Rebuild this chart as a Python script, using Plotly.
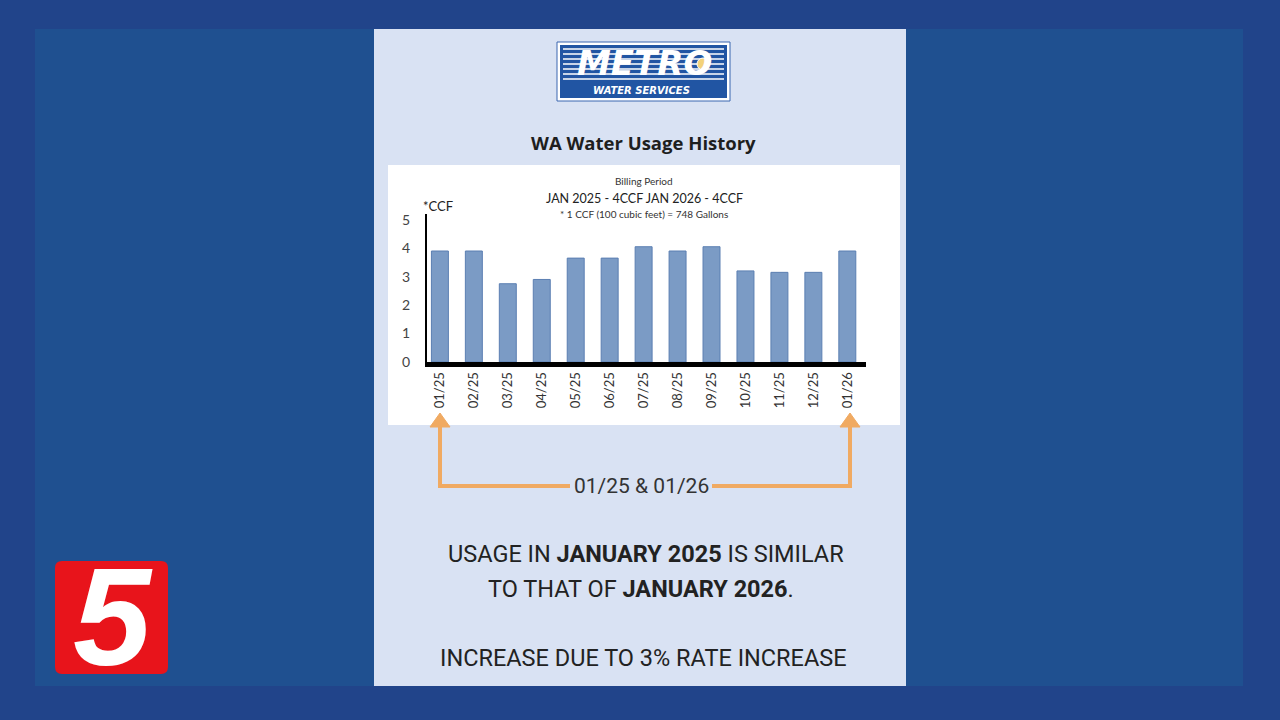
import plotly.graph_objects as go

# ---------------- data ----------------
months = ["01/25", "02/25", "03/25", "04/25", "05/25", "06/25", "07/25",
          "08/25", "09/25", "10/25", "11/25", "12/25", "01/26"]
usage_ccf = [3.9, 3.9, 2.75, 2.9, 3.65, 3.65, 4.05, 3.9, 4.05, 3.2, 3.15, 3.15, 3.9]
y_ticks = [0, 1, 2, 3, 4, 5]

W, H = 1280, 720


def px(x):
    return x / W


def py(y):
    return 1 - y / H


fig = go.Figure()

fig.add_trace(go.Bar(
    x=months, y=usage_ccf, width=0.5,
    marker=dict(color="#7b9bc5", line=dict(color="#5b7fb2", width=1)),
    hoverinfo="x+y",
))

shapes = []


def rect(x0, y0, x1, y1, fill, line_color=None, lw=0, layer="below"):
    shapes.append(dict(type="rect", xref="paper", yref="paper",
                       x0=px(x0), x1=px(x1), y0=py(y1), y1=py(y0),
                       fillcolor=fill, line=dict(color=line_color or fill, width=lw),
                       layer=layer))


def rounded(x0, y0, x1, y1, r, fill):
    p = (f"M {px(x0 + r)},{py(y0)} L {px(x1 - r)},{py(y0)} "
         f"Q {px(x1)},{py(y0)} {px(x1)},{py(y0 + r)} L {px(x1)},{py(y1 - r)} "
         f"Q {px(x1)},{py(y1)} {px(x1 - r)},{py(y1)} L {px(x0 + r)},{py(y1)} "
         f"Q {px(x0)},{py(y1)} {px(x0)},{py(y1 - r)} L {px(x0)},{py(y0 + r)} "
         f"Q {px(x0)},{py(y0)} {px(x0 + r)},{py(y0)} Z")
    shapes.append(dict(type="path", xref="paper", yref="paper", path=p,
                       fillcolor=fill, line=dict(color=fill, width=0)))


# backgrounds
rect(0, 0, 1280, 720, "#21448a")
rect(35, 29, 1243, 686, "#1f5090")
rect(374, 29, 906, 686, "#d9e2f3")
rect(388, 165, 900, 425, "#ffffff")

# logo box
rect(557, 42, 730, 101, "#ffffff", "#3a67b0", 1)
rect(560, 45, 727, 98, "#2155a3")
for yy in [49, 54, 59, 64, 69, 74, 79]:
    shapes.append(dict(type="line", xref="paper", yref="paper",
                       x0=px(563), x1=px(724), y0=py(yy), y1=py(yy),
                       line=dict(color="#ffffff", width=1.6)))

# arrows
orange = "#f0aa62"
shapes.append(dict(type="path", xref="paper", yref="paper",
                   path=f"M {px(440)},{py(424)} L {px(440)},{py(486)} L {px(570)},{py(486)}",
                   line=dict(color=orange, width=4)))
shapes.append(dict(type="path", xref="paper", yref="paper",
                   path=f"M {px(712)},{py(486)} L {px(850)},{py(486)} L {px(850)},{py(424)}",
                   line=dict(color=orange, width=4)))
for cx in [440, 850]:
    shapes.append(dict(type="path", xref="paper", yref="paper",
                       path=f"M {px(cx)},{py(413)} L {px(cx-10)},{py(427)} L {px(cx+10)},{py(427)} Z",
                       fillcolor=orange, line=dict(color=orange, width=1)))

# channel 5 logo
rounded(55, 561, 168, 674, 7, "#e8141b")

annotations = []


def text(x, y, s, size, color="#222", family="Lato", bold=False, italic=False, xanchor="center"):
    f = dict(size=size, color=color, family=family)
    if bold:
        f["weight"] = "bold"
    if italic:
        f["style"] = "italic"
    annotations.append(dict(x=px(x), y=py(y), xref="paper", yref="paper",
                            text=s, showarrow=False, font=f,
                            xanchor=xanchor, yanchor="middle"))


text(644, 63, "METRO", 34, "#ffffff", "DejaVu Sans", bold=True, italic=True)
text(641, 90, "WATER SERVICES", 10, "#ffffff", "DejaVu Sans", bold=True, italic=True)
text(643, 143, "WA Water Usage History", 18.5, "#1e1e1e", "Open Sans", bold=True)
text(644, 181, "Billing Period", 10, "#333")
text(644, 198, "JAN 2025 - 4CCF JAN 2026 - 4CCF", 12.5, "#222")
text(644, 214, "* 1 CCF (100 cubic feet) = 748 Gallons", 10, "#333")
text(421, 206, "*CCF", 13, "#222", xanchor="left")
text(641, 486, "01/25 &amp; 01/26", 21, "#333", "Roboto")
text(646, 554, "USAGE IN <b>JANUARY 2025</b> IS SIMILAR", 23.5, "#222", "Roboto")
text(641, 589, "TO THAT OF <b>JANUARY 2026</b>.", 23.5, "#222", "Roboto")
text(643, 658, "INCREASE DUE TO 3% RATE INCREASE", 23.5, "#222", "Roboto")
text(113, 616, "5", 140, "#ffffff", "Liberation Sans", bold=True, italic=True)

# sun in the logo's "O" (drawn above the text)
shapes.append(dict(type="circle", xref="paper", yref="paper",
                   x0=px(697), x1=px(709), y0=py(70), y1=py(58),
                   fillcolor="#f3d27a", line=dict(color="#ffffff", width=1),
                   layer="above"))

fig.update_layout(
    width=W, height=H, autosize=False,
    margin=dict(l=0, r=0, t=0, b=0, pad=0, autoexpand=False),
    paper_bgcolor="#21448a", plot_bgcolor="rgba(0,0,0,0)",
    showlegend=False, bargap=0.5,
    shapes=shapes, annotations=annotations,
    xaxis=dict(domain=[px(427), px(866)], range=[-0.38, 12.55],
               type="category", tickangle=-90, showgrid=False,
               showline=True, linecolor="#000000", linewidth=5,
               ticks="", tickfont=dict(family="Lato", size=13, color="#333"),
               automargin=False, fixedrange=True),
    yaxis=dict(domain=[py(362), py(214)], range=[0, 5.2],
               tickvals=y_ticks, showgrid=False, zeroline=False,
               showline=True, linecolor="#000000", linewidth=2,
               ticks="", ticklabelstandoff=12,
               tickfont=dict(family="Lato", size=14, color="#444"),
               automargin=False, fixedrange=True),
)

fig.write_html("out.html", config={"displayModeBar": False},
               post_script="document.body.style.margin='0';")
